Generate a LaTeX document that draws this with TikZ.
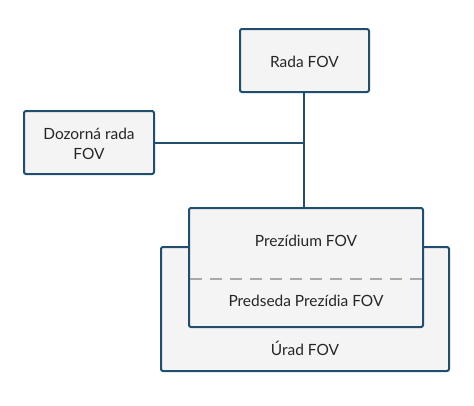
\documentclass[tikz,border=0pt]{standalone}
\usepackage{fontspec}
\setmainfont{Lato}
\definecolor{edgeblue}{HTML}{1F4E6E}
\definecolor{boxfill}{HTML}{F4F4F4}
\definecolor{dashgray}{HTML}{A8A8A8}
\begin{document}
\begin{tikzpicture}[x=0.75pt,y=-0.75pt,
  orgbox/.style={draw=edgeblue,fill=boxfill,line width=1.5pt,rounded corners=1.5pt},
  lbl/.style={font=\fontsize{11.6}{15}\selectfont,text=black!85,align=center},
  conn/.style={draw=edgeblue,line width=1.5pt}]
\useasboundingbox (0,0) rectangle (474,405);
% boxes
\draw[orgbox] (161,247) rectangle (449,371);
\draw[orgbox] (189,208) rectangle (423,327);
\coordinate (prezTop) at (304,208);
\draw[dashgray,line width=1pt,dash pattern=on 9pt off 6pt] (190,279) -- (422,279);
\draw[orgbox] (240,29) rectangle (369,92);
\coordinate (radaBot) at (304,92);
\draw[orgbox] (24,111) rectangle (154,174);
\coordinate (dozRight) at (154,143);
\coordinate (junction) at (304,143);
% connectors
\draw[conn] (radaBot) -- (prezTop);
\draw[conn] (dozRight) -- (junction);
% labels
\node[lbl] (rada) at (304.5,62) {Rada FOV};
\node[lbl] (doz) at (89,144) {Dozorná rada\\FOV};
\node[lbl] (prez) at (306,241) {Prezídium FOV};
\node[lbl] (pred) at (306,301) {Predseda Prezídia FOV};
\node[lbl] (urad) at (305,348) {Úrad FOV};
\end{tikzpicture}
\end{document}
